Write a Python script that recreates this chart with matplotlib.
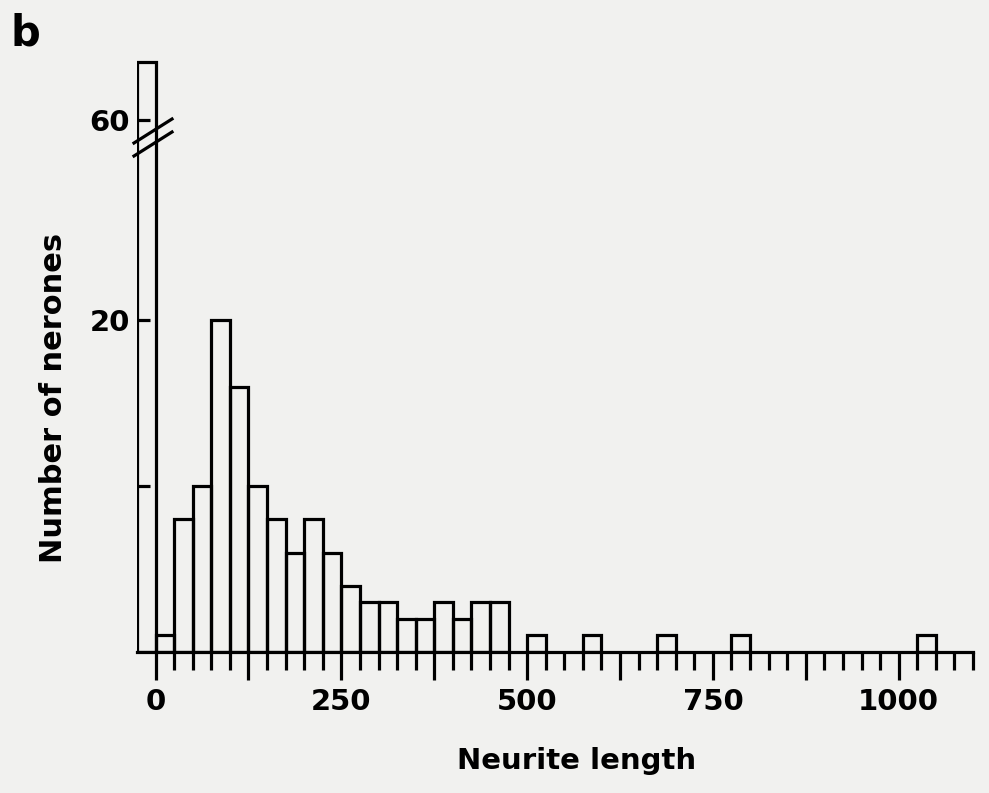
import matplotlib
matplotlib.use('Agg')
import matplotlib.pyplot as plt
from matplotlib.lines import Line2D
import numpy as np

# histogram of neurite length, bins of 25
bin_width = 25
bin_left = list(range(0, 1100, 25))
counts = [1, 8, 10, 20, 16, 10, 8, 6, 8, 6,      # 0 - 250
          4, 3, 3, 2, 2, 3, 2, 3, 3, 0,          # 250 - 500
          1, 0, 0, 1, 0, 0, 0, 1, 0, 0,          # 500 - 750
          0, 1, 0, 0, 0, 0, 0, 0, 0, 0,          # 750 - 1000
          0, 1, 0, 0]                            # 1000 - 1100
zero_left = -25        # neurones without neurite, drawn left of 0
zero_count = 64

xticks_major = list(range(0, 1001, 125))
xlabels = ['0', '', '250', '', '500', '', '750', '', '1000']
xticks_minor = list(range(0, 1101, 25))

paper = '#f1f1ef'
lw = 2.3
plt.rcParams['font.family'] = 'DejaVu Sans'
plt.rcParams['font.weight'] = 'bold'

fig = plt.figure(figsize=(9.89, 7.93), dpi=100, facecolor=paper)
W, H = 989.0, 793.0
left = 137 / W
width = (973 - 137) / W
ax = fig.add_axes([left, 1 - 652 / H, width, (652 - 140) / H])
ax_top = fig.add_axes([left, 1 - 140 / H, width, 90 / H])

for a in (ax, ax_top):
    a.set_facecolor('none')
    a.set_xlim(-25, 1100)
    a.bar(zero_left, zero_count, width=bin_width, align='edge', fill=False,
          edgecolor='black', linewidth=lw)

# regular bins (skip empty ones)
lefts = [l for l, c in zip(bin_left, counts) if c > 0]
heights = [c for c in counts if c > 0]
ax.bar(lefts, heights, width=bin_width, align='edge', fill=False,
       edgecolor='black', linewidth=lw)

ax.set_ylim(0, 512 / 16.58)
ax_top.set_ylim(60 - 20 / 14.5, 64 + 12 / 14.5)

for s in ['top', 'right', 'left']:
    ax.spines[s].set_visible(False)
ax.spines['bottom'].set_linewidth(lw)
for s in ax_top.spines.values():
    s.set_visible(False)

ax.set_xticks(xticks_major)
ax.set_xticklabels(xlabels, fontsize=21, fontweight='bold')
ax.set_xticks(xticks_minor, minor=True)
ax.tick_params(axis='x', which='major', direction='out', length=20, width=lw, pad=6)
ax.tick_params(axis='x', which='minor', direction='out', length=13, width=lw)

ax.set_yticks([10, 20])
ax.set_yticklabels(['', '20'], fontsize=21, fontweight='bold')
ax.tick_params(axis='y', direction='in', length=9, width=lw, pad=5, left=True)

ax_top.set_xticks([])
ax_top.set_yticks([60])
ax_top.set_yticklabels(['60'], fontsize=21, fontweight='bold')
ax_top.tick_params(axis='y', direction='in', length=9, width=lw, pad=5)

# break marks across the tall bar
for y0, y1 in [(143, 119), (156, 132)]:
    fig.add_artist(Line2D([134 / W, 172 / W], [1 - y0 / H, 1 - y1 / H],
                          transform=fig.transFigure, color='black', linewidth=lw))

fig.text(577 / W, 1 - 761 / H, 'Neurite length', ha='center', va='center',
         fontsize=21, fontweight='bold')
fig.text(54 / W, 1 - 398 / H, 'Number of nerones', ha='center', va='center',
         rotation=90, fontsize=22, fontweight='bold')
fig.text(10 / W, 1 - 12 / H, 'b', ha='left', va='top', fontsize=30, fontweight='bold')

fig.savefig('out.png', dpi=100, facecolor=paper)
